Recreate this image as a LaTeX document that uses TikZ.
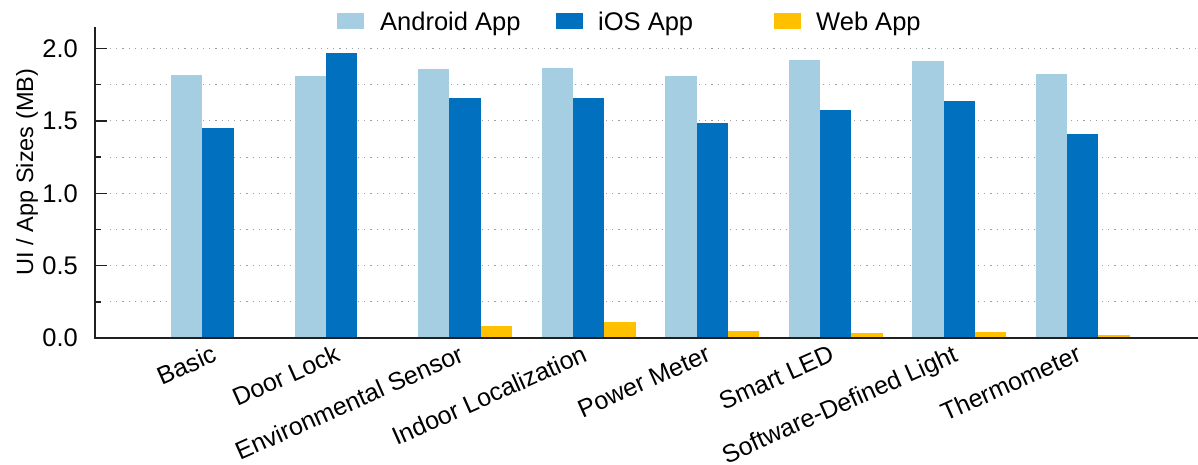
\documentclass[tikz,border=0pt]{standalone}
\usepackage{fontspec}
\setmainfont{Liberation Sans}
\definecolor{andr}{HTML}{A6CEE3}
\definecolor{iosc}{HTML}{0070BF}
\definecolor{webc}{HTML}{FFC000}
\definecolor{gridc}{HTML}{A0A0A0}
\definecolor{axisc}{HTML}{202020}
\begin{document}
\begin{tikzpicture}[x=1pt,y=-1pt,
  font=\fontsize{25.5}{30}\selectfont,
  gridline/.style={gridc, line width=1.1pt, dash pattern=on 1.1pt off 5.1pt},
  axisline/.style={axisc, line width=1.7pt},
  tickmark/.style={axisc, line width=1.4pt},
  ticklabel/.style={anchor=east, inner sep=0pt, text=black},
  catlabel/.style={anchor=base east, rotate=24, inner sep=0pt, text=black, font=\fontsize{25}{30}\selectfont},
  legsq/.style={minimum width=27pt, minimum height=16pt, inner sep=0pt, draw=none},
  legtext/.style={anchor=base west, inner sep=0pt, text=black}]
\useasboundingbox (0,0) rectangle (1198,464);
% grid
\foreach \k in {1,...,8}{
  \pgfmathsetmacro\yy{338-36.1875*\k}
  \draw[gridline] (110,\yy) -- (1198,\yy);
}
% bars and category labels
\foreach [count=\i from 0] \lab/\a/\b/\c in {
  Basic/1.817/1.451/0.010,
  Door Lock/1.810/1.970/0.010,
  Environmental Sensor/1.860/1.660/0.085,
  Indoor Localization/1.865/1.660/0.110,
  Power Meter/1.810/1.485/0.048,
  Smart LED/1.920/1.575/0.035,
  Software-Defined Light/1.914/1.637/0.040,
  Thermometer/1.824/1.410/0.018}{
  \pgfmathsetmacro\xs{171+123.55*\i}
  \fill[andr] (\xs,338) rectangle ({\xs+31.3},{338-144.75*\a});
  \fill[iosc] ({\xs+31.3},338) rectangle ({\xs+62.6},{338-144.75*\b});
  \fill[webc] ({\xs+62.6},338) rectangle ({\xs+93.9},{338-144.75*\c});
  \node[catlabel] (lab\i) at ({\xs+47},360.5) {\lab};
}
% axes
\coordinate (ytop) at (95,27);
\coordinate (origin) at (95,338);
\coordinate (xend) at (1198,338);
\draw[axisline] (ytop) -- (origin) -- (xend);
% ticks
\foreach \k in {0,...,8}{
  \pgfmathsetmacro\yy{338-36.1875*\k}
  \ifodd\k
    \draw[tickmark] (95,\yy) -- (101,\yy);
  \else
    \draw[tickmark] (95,\yy) -- (107,\yy);
  \fi
}
\foreach \v/\t in {0/0.0,1/0.5,2/1.0,3/1.5,4/2.0}{
  \pgfmathsetmacro\yy{338-72.375*\v}
  \node[ticklabel] (tick\v) at (78,\yy) {\t};
}
% y label
\node[rotate=90, inner sep=0pt, font=\fontsize{23.5}{28}\selectfont] (ylab) at (27,172) {UI / App Sizes (MB)};
% legend
\node[legsq, fill=andr] (lg1) at (350.5,21) {};
\node[legtext] (lt1) at (380,30.7) {Android App};
\node[legsq, fill=iosc] (lg2) at (569.5,21) {};
\node[legtext] (lt2) at (598,30.7) {iOS App};
\node[legsq, fill=webc] (lg3) at (787.5,21) {};
\node[legtext] (lt3) at (816,30.7) {Web App};
\end{tikzpicture}
\end{document}
